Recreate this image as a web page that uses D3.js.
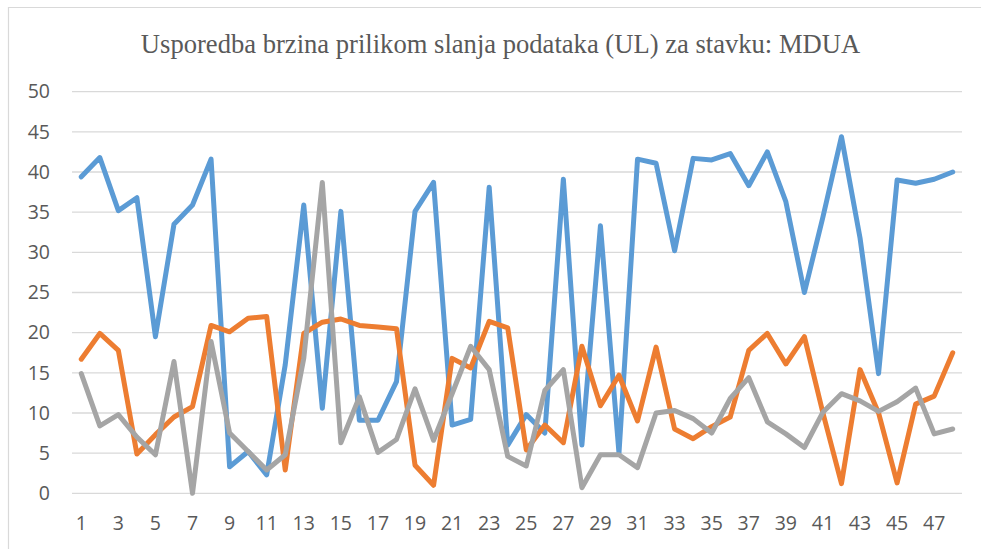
<!DOCTYPE html>
<html>
<head>
<meta charset="utf-8">
<script src="https://cdn.jsdelivr.net/npm/d3@7"></script>
<style>
  body { margin: 0; background: #fff; }
  svg { display: block; }
</style>
</head>
<body>
<div id="chart"></div>
<script>
const title = "Usporedba brzina prilikom slanja podataka (UL) za stavku: MDUA";

const categories = d3.range(1, 49);
const yTicks = [0, 5, 10, 15, 20, 25, 30, 35, 40, 45, 50];

const blue = [39.4, 41.8, 35.2, 36.8, 19.5, 33.5, 35.9, 41.6, 3.3, 5.2,
  2.3, 16.0, 35.9, 10.6, 35.1, 9.1, 9.1, 13.9, 35.1, 38.7,
  8.5, 9.2, 38.1, 6.0, 9.8, 7.5, 39.1, 6.0, 33.3, 5.0,
  41.6, 41.1, 30.2, 41.7, 41.5, 42.3, 38.3, 42.5, 36.3, 25.0,
  34.4, 44.4, 31.8, 14.9, 39.0, 38.6, 39.1, 40.0];
const orange = [16.7, 19.9, 17.8, 4.9, 7.3, 9.5, 10.8, 20.9, 20.1, 21.8,
  22.0, 2.9, 19.9, 21.3, 21.7, 20.9, 20.7, 20.5, 3.5, 1.0,
  16.8, 15.6, 21.4, 20.6, 5.4, 8.5, 6.3, 18.3, 10.9, 14.7,
  9.0, 18.2, 8.0, 6.8, 8.3, 9.5, 17.8, 19.9, 16.1, 19.5,
  10.0, 1.2, 15.4, 10.0, 1.3, 11.1, 12.1, 17.5];
const gray = [14.9, 8.4, 9.8, 7.0, 4.8, 16.4, 0.0, 18.9, 7.5, 5.2,
  2.9, 4.8, 16.8, 38.7, 6.3, 12.0, 5.1, 6.7, 13.0, 6.6,
  12.4, 18.3, 15.4, 4.6, 3.4, 12.8, 15.4, 0.7, 4.8, 4.8,
  3.2, 10.0, 10.3, 9.3, 7.5, 11.8, 14.4, 8.9, 7.4, 5.7,
  10.1, 12.4, 11.5, 10.2, 11.4, 13.1, 7.4, 8.0];

const width = 981, height = 549;
const margin = {top: 91.7, right: 19, bottom: 55.7, left: 72};

const svg = d3.select("#chart").append("svg")
  .attr("width", width)
  .attr("height", height);

// chart frame (only top and left edges fall inside the picture)
svg.append("path")
  .attr("d", `M8.5,${height} L8.5,7.5 L${width},7.5`)
  .attr("fill", "none")
  .attr("stroke", "#d9d9d9")
  .attr("stroke-width", 1.2);

const x = d3.scaleBand()
  .domain(categories)
  .range([margin.left, width - margin.right]);

const y = d3.scaleLinear()
  .domain([0, 50])
  .range([height - margin.bottom, margin.top]);

// gridlines
svg.append("g")
  .selectAll("line")
  .data(yTicks)
  .join("line")
  .attr("x1", margin.left)
  .attr("x2", width - margin.right)
  .attr("y1", d => y(d))
  .attr("y2", d => y(d))
  .attr("stroke", "#d9d9d9")
  .attr("stroke-width", 1.3);

// y axis labels
const yAxis = d3.axisLeft(y).tickValues(yTicks).tickSize(0).tickPadding(0);
svg.append("g")
  .attr("transform", `translate(50,0)`)
  .call(yAxis)
  .call(g => g.select(".domain").remove())
  .call(g => g.selectAll("text")
    .attr("font-family", "'Open Sans', 'Liberation Sans', sans-serif")
    .attr("font-size", 19.5)
    .attr("fill", "#595959"));

// x axis labels, every second category
const xAxis = d3.axisBottom(x)
  .tickValues(categories.filter(d => d % 2 === 1))
  .tickSize(0)
  .tickPadding(0);
svg.append("g")
  .attr("transform", `translate(0,${height - margin.bottom + 23})`)
  .call(xAxis)
  .call(g => g.select(".domain").remove())
  .call(g => g.selectAll("text")
    .attr("font-family", "'Open Sans', 'Liberation Sans', sans-serif")
    .attr("font-size", 19.5)
    .attr("fill", "#595959"));

const line = d3.line()
  .x((d, i) => x(categories[i]) + x.bandwidth() / 2)
  .y(d => y(d));

const series = [
  {values: blue, color: "#5b9bd5"},
  {values: orange, color: "#ed7d31"},
  {values: gray, color: "#a5a5a5"}
];

svg.append("g")
  .selectAll("path")
  .data(series)
  .join("path")
  .attr("d", d => line(d.values))
  .attr("fill", "none")
  .attr("stroke", d => d.color)
  .attr("stroke-width", 5)
  .attr("stroke-linejoin", "round")
  .attr("stroke-linecap", "round");

// title
svg.append("text")
  .attr("x", 500.5)
  .attr("y", 53)
  .attr("text-anchor", "middle")
  .attr("font-family", "'Liberation Serif', 'DejaVu Serif', serif")
  .attr("font-size", 26.6)
  .attr("fill", "#595959")
  .text(title);
</script>
</body>
</html>
